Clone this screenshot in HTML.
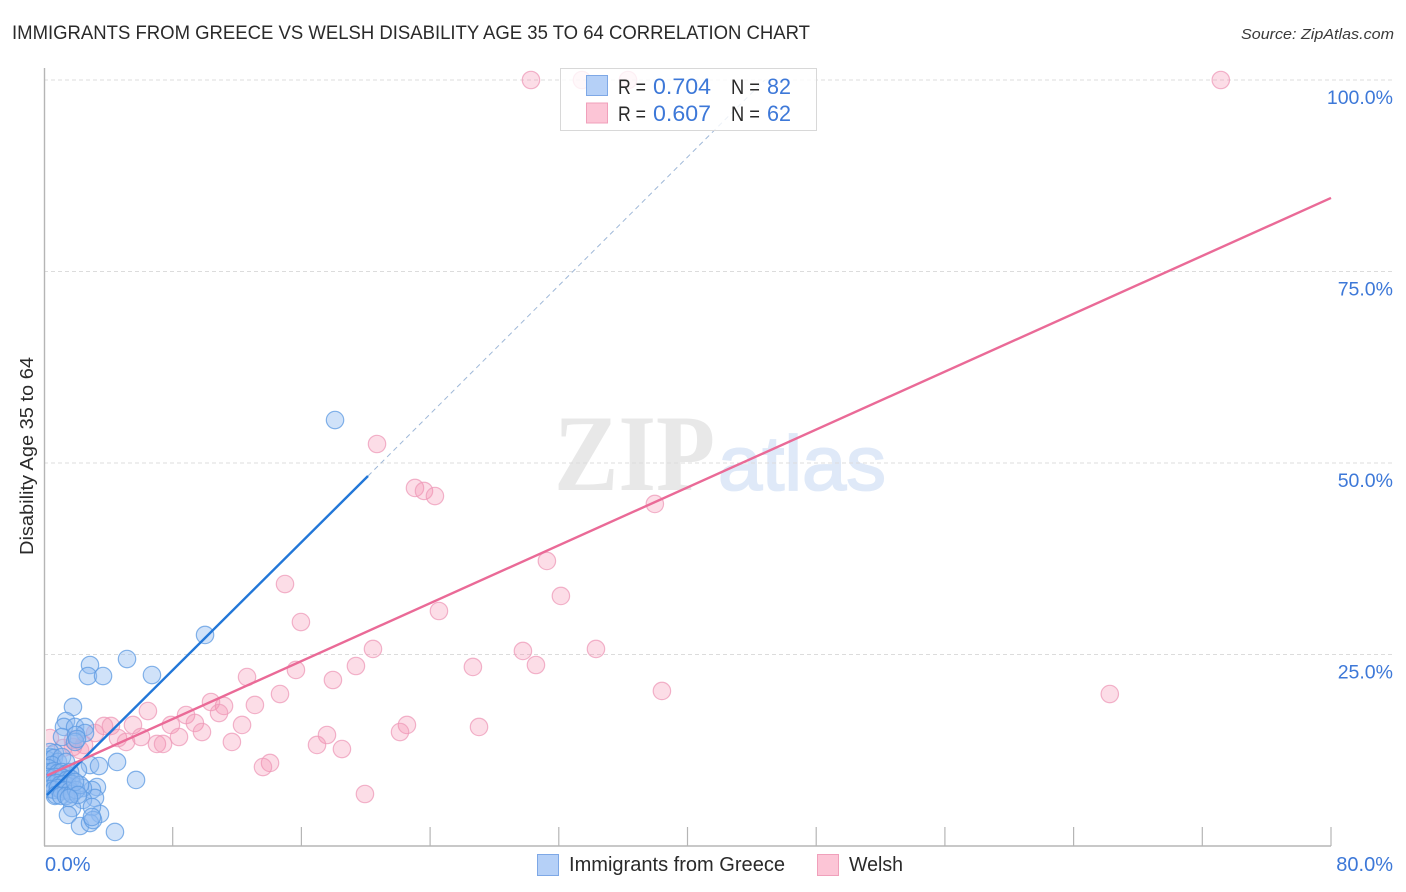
<!DOCTYPE html>
<html lang="en">
<head>
<meta charset="utf-8">
<title>Immigrants from Greece vs Welsh Disability Age 35 to 64 Correlation Chart</title>
<style>
html,body{margin:0;padding:0;background:#fff;}
svg{display:block;font-family:"Liberation Sans",sans-serif;}
</style>
</head>
<body>
<svg id="chart" xmlns="http://www.w3.org/2000/svg" width="1406" height="892" viewBox="0 0 1406 892">
  <defs>
    <clipPath id="plot-clip"><rect x="46" y="60" width="1350" height="786"/></clipPath>
  </defs>
  <text x="12" y="39" font-size="19.5" fill="#2a2a2a" textLength="798" lengthAdjust="spacingAndGlyphs">IMMIGRANTS FROM GREECE VS WELSH DISABILITY AGE 35 TO 64 CORRELATION CHART</text>
  <text x="1394" y="39" font-size="15" font-style="italic" fill="#3a3a3a" text-anchor="end" textLength="153" lengthAdjust="spacingAndGlyphs">Source: ZipAtlas.com</text>

  <g>
    <text x="554" y="490" font-family="'Liberation Serif',serif" font-weight="bold" font-size="109" fill="#e8e8e8" textLength="161" lengthAdjust="spacingAndGlyphs">ZIP</text>
    <text x="718" y="490" font-family="'Liberation Sans',sans-serif" font-size="77" fill="#dfe9f8" stroke="#dfe9f8" stroke-width="1.8" textLength="168" lengthAdjust="spacingAndGlyphs">atlas</text>
  </g>

  <g id="grid"></g>
  <g id="axes"></g>
  <g id="pink-points" clip-path="url(#plot-clip)"></g>
  <g id="blue-points" clip-path="url(#plot-clip)"></g>
  <g id="trends"></g>
  <g id="labels"></g>

  <text transform="translate(33 456) rotate(-90)" font-size="18" fill="#2a2a2a" text-anchor="middle" textLength="198" lengthAdjust="spacingAndGlyphs">Disability Age 35 to 64</text>

  <g>
    <rect x="560.5" y="68.5" width="256" height="62" fill="#fff" fill-opacity="0.8" stroke="#d8d8d8"/>
    <rect x="586.5" y="75.5" width="21" height="20" fill="#b5d0f7" stroke="#7ea8e6"/>
    <rect x="586.5" y="103" width="21" height="20" fill="#fcc5d6" stroke="#f0a0bb"/>
    <g font-size="21">
      <text x="618" y="94" fill="#2a2a2a" textLength="28" lengthAdjust="spacingAndGlyphs">R =</text>
      <text x="653" y="94" fill="#3d78d8" font-size="22" textLength="58" lengthAdjust="spacingAndGlyphs">0.704</text>
      <text x="731" y="94" fill="#2a2a2a" textLength="29" lengthAdjust="spacingAndGlyphs">N =</text>
      <text x="767" y="94" fill="#3d78d8" font-size="22" textLength="24" lengthAdjust="spacingAndGlyphs">82</text>
      <text x="618" y="121" fill="#2a2a2a" textLength="28" lengthAdjust="spacingAndGlyphs">R =</text>
      <text x="653" y="121" fill="#3d78d8" font-size="22" textLength="58" lengthAdjust="spacingAndGlyphs">0.607</text>
      <text x="731" y="121" fill="#2a2a2a" textLength="29" lengthAdjust="spacingAndGlyphs">N =</text>
      <text x="767" y="121" fill="#3d78d8" font-size="22" textLength="24" lengthAdjust="spacingAndGlyphs">62</text>
    </g>
  </g>

  <g>
    <rect x="537.5" y="854.5" width="21" height="21" fill="#b5d0f7" stroke="#7ea8e6"/>
    <text x="569" y="871" font-size="20" fill="#2a2a2a" textLength="216" lengthAdjust="spacingAndGlyphs">Immigrants from Greece</text>
    <rect x="817.5" y="854.5" width="21" height="21" fill="#fcc5d6" stroke="#f0a0bb"/>
    <text x="849" y="871" font-size="20" fill="#2a2a2a" textLength="54" lengthAdjust="spacingAndGlyphs">Welsh</text>
  </g>
</svg>
<script>
const greeceX = [18.09,10.01,5.16,6.71,2.86,2.73,3.67,1.80,1.37,1.24,1.93,2.55,2.55,1.12,1.99,1.93,2.05,0.68,0.37,2.86,3.42,4.54,5.72,2.11,3.29,2.98,3.17,2.42,2.42,3.48,2.98,1.74,1.49,2.24,2.86,3.05,2.98,4.41,0.68,0.19,0.37,0.62,0.87,1.12,0.50,1.37,0.25,0.37,0.62,0.87,1.12,1.37,1.62,0.19,0.44,0.68,0.93,1.18,1.43,1.68,0.25,0.50,0.75,0.99,1.24,1.49,1.74,0.37,0.62,0.87,1.12,1.37,1.62,0.75,1.06,1.37,1.74,1.99,2.24,1.93,2.11,1.55];
const greeceY = [55.61,27.55,24.41,22.32,23.63,22.19,22.19,18.15,16.32,15.54,15.54,15.54,14.75,14.23,14.49,13.58,13.97,12.14,11.62,10.57,10.44,10.97,8.62,9.92,7.70,7.31,6.27,7.57,6.01,4.18,5.09,4.96,4.05,2.61,3.00,3.39,3.79,1.83,6.53,11.23,12.27,11.49,10.97,11.62,10.57,10.97,10.18,9.66,9.79,9.53,9.66,9.40,9.66,9.01,8.88,9.01,8.75,8.88,8.62,8.75,8.22,8.09,8.22,7.96,8.09,7.83,8.09,7.44,7.31,7.57,7.18,7.31,7.18,6.66,6.53,6.53,6.79,7.31,7.96,8.36,6.66,6.27];
const welshX = [30.27,33.44,36.30,73.15,20.70,23.06,23.62,24.30,37.97,31.26,32.13,14.98,24.55,15.97,34.31,29.77,20.45,30.58,19.39,26.66,15.66,12.62,17.96,38.41,66.25,14.67,13.11,11.19,10.38,6.46,8.83,10.88,7.89,9.38,12.31,22.56,27.04,22.13,9.82,3.73,4.16,5.53,17.59,4.60,6.03,8.39,5.10,11.68,16.97,7.02,7.40,18.52,14.05,13.61,19.95,2.49,3.17,0.37,1.18,1.80,2.24,1.80];
const welshY = [100,100,100,100,52.48,46.74,46.35,45.69,44.65,37.21,32.64,34.20,30.68,29.24,25.72,25.46,25.72,23.63,23.50,23.37,22.98,22.06,21.67,20.24,19.84,19.84,18.41,18.28,18.80,17.62,17.10,17.36,15.80,16.06,15.80,15.80,15.54,14.88,14.88,15.67,15.67,15.80,14.49,14.10,14.23,14.23,13.58,13.58,13.19,13.32,13.32,12.66,10.84,10.31,6.79,13.19,14.75,14.10,12.79,12.92,12.53,13.84];
const greeceTrendSolidX = [0.19,20.14];
const greeceTrendSolidY = [6.66,48.3];
const greeceTrendDashedX = [20.14,44.8];
const greeceTrendDashedY = [48.3,100];
const welshTrendX = [0.19,80];
const welshTrendY = [9.2,84.6];
const xTickValues = [0,8,16,24,32,40,48,56,64,72,80];
const yTickValues = [25,50,75,100];
const yTickLabels = ["25.0%","50.0%","75.0%","100.0%"];
const xEndValues = [0,80];
const xEndLabels = ["0.0%","80.0%"];

const NS = 'http://www.w3.org/2000/svg';
function xScale(v){ return 44 + v * 16.0875; }
function yScale(v){ return 846 - v * 7.66; }
function make(parent, tag, attrs){
  const el = document.createElementNS(NS, tag);
  for (const k in attrs) el.setAttribute(k, attrs[k]);
  parent.appendChild(el);
  return el;
}

const grid = document.getElementById('grid');
yTickValues.forEach(function(v){
  const g = make(grid, 'line', {x1:44, x2:1394, y1:yScale(v), y2:yScale(v), stroke:'#dcdcdc', 'stroke-width':1, 'stroke-dasharray':'4 3'});
  
  
});

const axes = document.getElementById('axes');
const yAxis = make(axes, 'line', {x1:44.5, x2:44.5, y1:68, y2:846, stroke:'#b5b5b5', 'stroke-width':1.4});


const xAxis = make(axes, 'line', {x1:44, x2:1331, y1:846, y2:846, stroke:'#b5b5b5', 'stroke-width':1.4});


xTickValues.forEach(function(v){
  if (v === 0) return;
  const t = make(axes, 'line', {x1:xScale(v), x2:xScale(v), y1:827, y2:846, stroke:'#b5b5b5', 'stroke-width':1.2});
  
  
});

const pinkLayer = document.getElementById('pink-points');
welshX.forEach(function(x, i){
  const c = make(pinkLayer, 'circle', {cx:xScale(x), cy:yScale(welshY[i]), r:8.7, fill:'#f48fb1', 'fill-opacity':0.3, stroke:'#ee9ab8', 'stroke-opacity':0.75, 'stroke-width':1.2});
  
  
});

const blueLayer = document.getElementById('blue-points');
greeceX.forEach(function(x, i){
  const c = make(blueLayer, 'circle', {cx:xScale(x), cy:yScale(greeceY[i]), r:8.7, fill:'#90bbf0', 'fill-opacity':0.42, stroke:'#5c9ae2', 'stroke-opacity':0.75, 'stroke-width':1.2});
  
  
});

const trends = document.getElementById('trends');
const blueDash = make(trends, 'line', {x1:xScale(greeceTrendDashedX[0]), y1:yScale(greeceTrendDashedY[0]), x2:xScale(greeceTrendDashedX[1]), y2:yScale(greeceTrendDashedY[1]), stroke:'#9fb8d8', 'stroke-width':1, 'stroke-dasharray':'5 4'});


const blueSolid = make(trends, 'line', {x1:xScale(greeceTrendSolidX[0]), y1:yScale(greeceTrendSolidY[0]), x2:xScale(greeceTrendSolidX[1]), y2:yScale(greeceTrendSolidY[1]), stroke:'#2277d8', 'stroke-width':2.4});


const pinkSolid = make(trends, 'line', {x1:xScale(welshTrendX[0]), y1:yScale(welshTrendY[0]), x2:xScale(welshTrendX[1]), y2:yScale(welshTrendY[1]), stroke:'#ea6a97', 'stroke-width':2.4});



const labels = document.getElementById('labels');
yTickValues.forEach(function(v, i){
  const t = make(labels, 'text', {x:1393, y:yScale(v) + 24, 'font-size':19.5, fill:'#3d78d8', 'text-anchor':'end'});
  
  
  t.textContent = yTickLabels[i];
});
xEndValues.forEach(function(v, i){
  const t = make(labels, 'text', {x: i === 0 ? xScale(v) + 1 : 1393, y:871, 'font-size':20, fill:'#3d78d8', 'text-anchor': i === 0 ? 'start' : 'end'});
  
  
  t.textContent = xEndLabels[i];
});
</script>
</body>
</html>
